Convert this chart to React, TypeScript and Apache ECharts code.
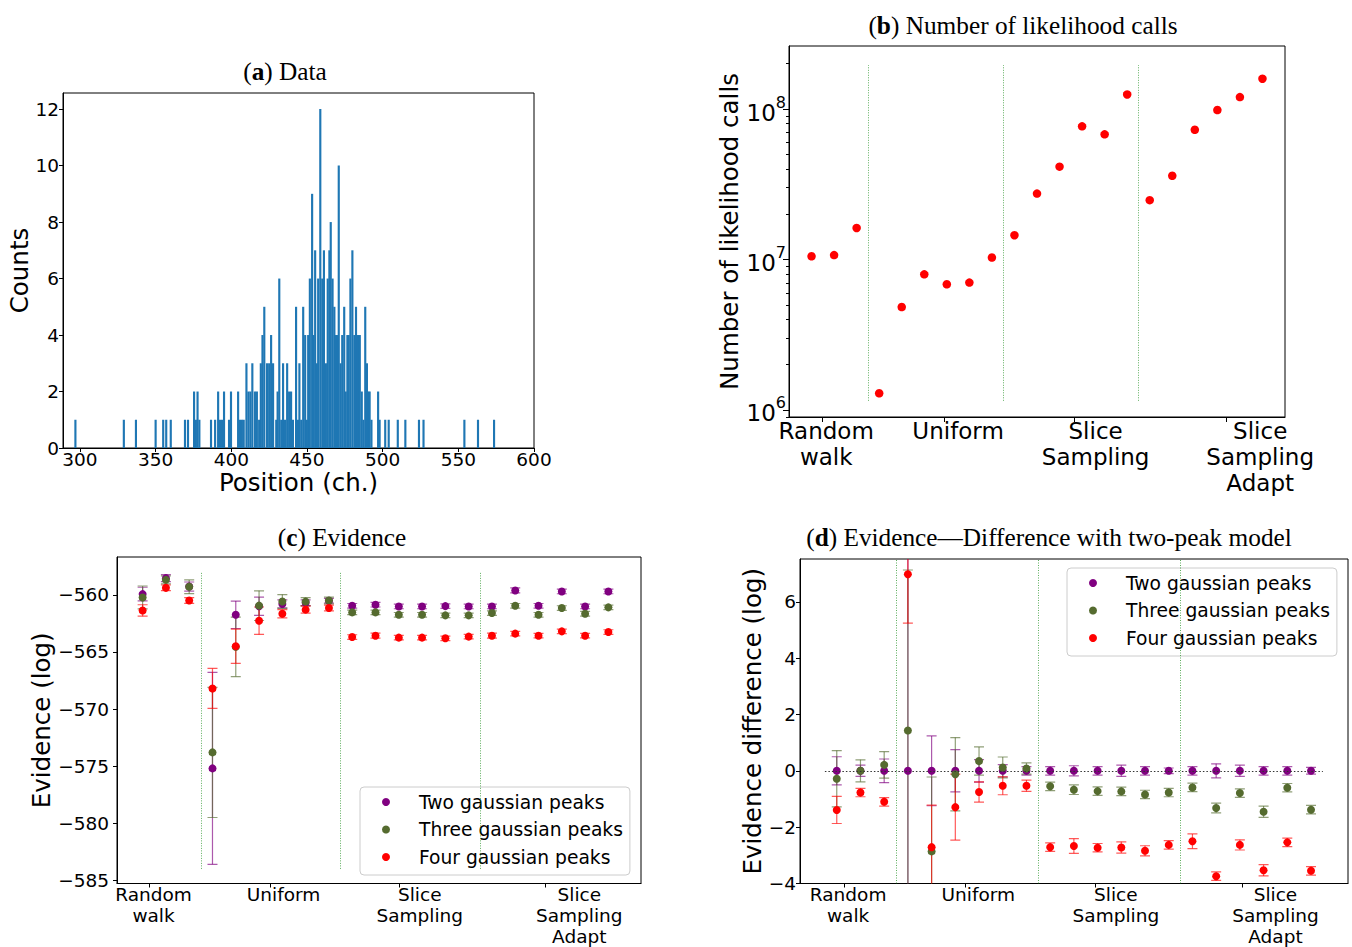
import React, { useEffect, useRef } from "react";
import * as echarts from "echarts";

// ---------- (a) Histogram data ----------
const HIST_CHANNELS = [
  297, 329, 337, 350, 355, 357, 360, 369.4, 371.4, 375.4,
  376.6, 377.7, 378.9, 386.6, 389.3, 391.3, 392.6, 393.9, 395.2, 398.5,
  399.8, 404.5, 405.8, 407, 408.2, 410, 411.3, 412.6, 413.9, 415.6,
  416.9, 418.4, 419.5, 420.6, 421.8, 423.6, 425, 426.3, 427.6, 429.7,
  430.6, 431.7, 433, 434.2, 435.5, 436.9, 438.2, 439.5, 440.7, 442.8,
  444.1, 445, 446.2, 447.5, 448.8, 449.9, 450.8, 451.9, 453.4, 454.3,
  455.4, 456.5, 457.4, 458.8, 460.1, 461.2, 462.5, 463.7, 464.8, 465.7,
  466.9, 468.1, 469.2, 470.1, 471, 472.2, 473.3, 474.6, 475.6, 476.7,
  477.6, 478.7, 480, 481.3, 482.4, 483.7, 484.9, 486.2, 487.3, 488.5,
  489.6, 490.5, 491.4, 492.6, 497, 498, 501.7, 504, 510, 515,
  524, 527, 554, 563, 573.6,
];
const HIST_COUNTS = [
  1, 1, 1, 1, 1, 1, 1, 1, 1, 2,
  1, 2, 1, 1, 1, 2, 1, 1, 2, 1,
  2, 2, 1, 1, 1, 3, 2, 2, 3, 2,
  2, 1, 3, 4, 5, 3, 3, 4, 3, 1,
  2, 6, 1, 3, 1, 3, 2, 2, 1, 5,
  1, 3, 1, 5, 4, 1, 4, 6, 9, 4,
  7, 3, 6, 12, 6, 7, 3, 6, 7, 8,
  6, 5, 4, 4, 10, 3, 4, 5, 2, 4,
  4, 6, 7, 4, 5, 4, 4, 2, 1, 5,
  3, 2, 2, 1, 2, 1, 1, 1, 1, 1,
  1, 1, 1, 1, 1,
];
const BIN_WIDTH = 1.42;
const HIST_X_TICKS = [300, 350, 400, 450, 500, 550, 600];
const HIST_Y_TICKS = [0, 2, 4, 6, 8, 10, 12];

// ---------- Methods ----------
const METHOD_LABELS = ["Random\nwalk", "Uniform", "Slice\nSampling", "Slice\nSampling\nAdapt"];
const SEPARATORS = [2.5, 8.5, 14.5];

// ---------- (b) Number of likelihood calls ----------
const CALL_COUNTS = [
  1.05e7, 1.07e7, 1.62e7,
  1.29e6, 4.83e6, 7.97e6, 6.84e6, 7.02e6, 1.03e7,
  1.45e7, 2.74e7, 4.14e7, 7.67e7, 6.79e7, 1.25e8,
  2.48e7, 3.6e7, 7.28e7, 9.85e7, 1.2e8, 1.59e8,
];
const CALLS_MAJOR_TICKS = [1e6, 1e7, 1e8];
const CALLS_MINOR_TICKS = [
  9e5, 2e6, 3e6, 4e6, 5e6, 6e6, 7e6, 8e6, 9e6,
  2e7, 3e7, 4e7, 5e7, 6e7, 7e7, 8e7, 9e7, 2e8,
];
const CALLS_SEP_RANGE = [1.15e6, 1.96e8];

// ---------- (c) Evidence ----------
const EV_TWO = [-559.94, -558.54, -559.28, -575.2, -561.75, -561.0, -560.8, -560.7, -560.52,
  -560.96, -560.87, -561.02, -561.02, -560.99, -561.02,
  -561.02, -559.62, -560.96, -559.71, -561.02, -559.71];
const EV_TWO_ERR = [0.6, 0.3, 0.4, 8.4, 1.2, 0.8, 0.35, 0.25, 0.2,
  0.2, 0.2, 0.2, 0.2, 0.2, 0.2, 0.2, 0.22, 0.2, 0.2, 0.2, 0.2];
const EV_THREE = [-560.23, -558.69, -559.3, -573.8, -564.56, -560.95, -560.58, -560.6, -560.5,
  -561.54, -561.54, -561.75, -561.75, -561.8, -561.8,
  -561.6, -560.96, -561.75, -561.16, -561.66, -561.1];
const EV_THREE_ERR = [1.0, 0.35, 0.6, 5.7, 2.6, 1.3, 0.6, 0.35, 0.3,
  0.2, 0.2, 0.2, 0.2, 0.2, 0.2, 0.2, 0.2, 0.2, 0.2, 0.2, 0.2];
const EV_FOUR = [-561.37, -559.39, -560.5, -568.2, -564.5, -562.27, -561.66, -561.3, -561.16,
  -563.7, -563.58, -563.75, -563.75, -563.81, -563.66,
  -563.58, -563.4, -563.58, -563.2, -563.58, -563.26];
const EV_FOUR_ERR = [0.5, 0.25, 0.25, 1.75, 1.5, 1.2, 0.36, 0.3, 0.25,
  0.2, 0.22, 0.2, 0.2, 0.2, 0.2, 0.22, 0.2, 0.2, 0.2, 0.2, 0.2];
const EV_TICKS = [-585, -580, -575, -570, -565, -560];
const EV_SEP_RANGE = [-584, -558];

// ---------- (d) Difference with two-peak model ----------
const DIFF_TWO = [0, 0, 0, 0, 0, 0, 0, 0, 0, 0, 0, 0, 0, 0, 0, 0, 0, 0, 0, 0, 0];
const DIFF_TWO_ERR = [0.5, 0.2, 0.42, 8.5, 1.24, 0.75, 0.4, 0.22, 0.15,
  0.15, 0.18, 0.15, 0.2, 0.15, 0.1, 0.15, 0.25, 0.2, 0.15, 0.15, 0.12];
const DIFF_THREE = [-0.28, 0, 0.21, 1.43, -2.86, -0.12, 0.35, 0.12, 0.08,
  -0.55, -0.67, -0.72, -0.73, -0.84, -0.77,
  -0.59, -1.32, -0.79, -1.45, -0.6, -1.38];
const DIFF_THREE_ERR = [1.0, 0.39, 0.47, 5.7, 2.64, 1.3, 0.5, 0.37, 0.2,
  0.15, 0.17, 0.15, 0.15, 0.15, 0.15, 0.15, 0.17, 0.15, 0.2, 0.15, 0.15];
const DIFF_FOUR = [-1.39, -0.77, -1.1, 6.98, -2.71, -1.29, -0.75, -0.53, -0.53,
  -2.71, -2.67, -2.73, -2.72, -2.84, -2.63,
  -2.5, -3.74, -2.63, -3.53, -2.54, -3.55];
const DIFF_FOUR_ERR = [0.48, 0.15, 0.15, 1.74, 1.49, 1.17, 0.36, 0.32, 0.2,
  0.15, 0.26, 0.15, 0.2, 0.18, 0.15, 0.26, 0.15, 0.18, 0.2, 0.15, 0.15];
const DIFF_TICKS = [-4, -2, 0, 2, 4, 6];
const DIFF_RANGE = [-4, 7.52];

const MODEL_NAMES = ["Two gaussian peaks", "Three gaussian peaks", "Four gaussian peaks"];
const MODEL_COLORS = ["#800080", "#556b2f", "#ff0000"];

const SANS = "DejaVu Sans";
const SERIF = "Liberation Serif";

const minus = (v: number) => (v < 0 ? "\u2212" + Math.abs(v) : String(v));

function methodFormatter(pos: number[]) {
  return (v: number) => {
    const i = pos.findIndex((p) => Math.abs(p - v) < 1e-6);
    return i >= 0 ? METHOD_LABELS[i] : "";
  };
}

function errSeries(name: string, color: string, xi: number, yi: number, vals: number[], errs: number[]) {
  return {
    type: "custom",
    name: name + " error",
    xAxisIndex: xi,
    yAxisIndex: yi,
    clip: true,
    silent: true,
    data: vals.map((v, i) => [i, v, errs[i]]),
    encode: { x: 0, y: 1 },
    renderItem: (params: any, api: any) => {
      const x = api.value(0);
      const y = api.value(1);
      const e = api.value(2);
      const p1 = api.coord([x, y + e]);
      const p2 = api.coord([x, y - e]);
      const hw = 5;
      const s = { stroke: color, lineWidth: 1.2, opacity: 0.65 };
      return {
        type: "group",
        children: [
          { type: "line", shape: { x1: p1[0], y1: p1[1], x2: p2[0], y2: p2[1] }, style: s },
          { type: "line", shape: { x1: p1[0] - hw, y1: p1[1], x2: p1[0] + hw, y2: p1[1] }, style: s },
          { type: "line", shape: { x1: p2[0] - hw, y1: p2[1], x2: p2[0] + hw, y2: p2[1] }, style: s },
        ],
      };
    },
  };
}

function sepMarkLine(lo: number, hi: number) {
  return {
    silent: true,
    symbol: "none",
    label: { show: false },
    lineStyle: { color: "#008000", width: 0.8, type: [1, 1.5], opacity: 0.8 },
    data: SEPARATORS.map((s) => [{ coord: [s, lo] }, { coord: [s, hi] }]),
  };
}

function buildOption() {
  const axisLineStyle = { show: true, onZero: false, lineStyle: { color: "#000", width: 1 } };
  const labelBase = { color: "#000", fontFamily: SANS, fontSize: 18.5 };
  const nameStyle = { color: "#000", fontFamily: SANS, fontSize: 24.5 };
  const gridBase = { show: true, borderColor: "#000", borderWidth: 1, backgroundColor: "transparent" };

  const LABEL_POS_B = [0.65, 6.5, 12.6, 19.9];
  const TICK_POS_B = [0.47, 5.9, 11.65, 18.4];
  const LABEL_POS_C = [0.47, 6.05, 11.9, 18.75];
  const TICK_POS_C = [0.3, 5.5, 11.0, 17.3];
  const LABEL_POS_D = [0.48, 5.97, 11.77, 18.5];
  const TICK_POS_D = [0.3, 5.4, 10.9, 17.1];

  const series: any[] = [];

  // (a) histogram
  series.push({
    type: "custom",
    name: "hist",
    xAxisIndex: 0,
    yAxisIndex: 0,
    clip: true,
    silent: true,
    data: HIST_CHANNELS.map((c, i) => [c, HIST_COUNTS[i]]),
    encode: { x: 0, y: 1 },
    renderItem: (params: any, api: any) => {
      const c = api.value(0);
      const n = api.value(1);
      const p0 = api.coord([c - BIN_WIDTH / 2, 0]);
      const p1 = api.coord([c + BIN_WIDTH / 2, n]);
      return {
        type: "rect",
        shape: { x: p0[0], y: p1[1], width: p1[0] - p0[0], height: p0[1] - p1[1] },
        style: { fill: "#1f77b4" },
      };
    },
  });

  // (b) likelihood calls
  series.push({
    type: "scatter",
    name: "calls",
    xAxisIndex: 1,
    yAxisIndex: 1,
    symbolSize: 8.5,
    itemStyle: { color: "#ff0000", opacity: 1 },
    data: CALL_COUNTS.map((v, i) => [i, Math.log10(v)]),
    markLine: sepMarkLine(Math.log10(CALLS_SEP_RANGE[0]), Math.log10(CALLS_SEP_RANGE[1])),
  });

  // (c) evidence
  const evVals = [EV_TWO, EV_THREE, EV_FOUR];
  const evErrs = [EV_TWO_ERR, EV_THREE_ERR, EV_FOUR_ERR];
  for (let m = 0; m < 3; m++) {
    series.push(errSeries(MODEL_NAMES[m] + " (c)", MODEL_COLORS[m], 2, 3, evVals[m], evErrs[m]));
    const s: any = {
      type: "scatter",
      name: MODEL_NAMES[m],
      xAxisIndex: 2,
      yAxisIndex: 3,
      symbolSize: 8,
      itemStyle: { color: MODEL_COLORS[m], opacity: 1 },
      data: evVals[m].map((v, i) => [i, v]),
    };
    if (m === 0) s.markLine = sepMarkLine(EV_SEP_RANGE[0], EV_SEP_RANGE[1]);
    series.push(s);
  }

  // (d) differences
  const dVals = [DIFF_TWO, DIFF_THREE, DIFF_FOUR];
  const dErrs = [DIFF_TWO_ERR, DIFF_THREE_ERR, DIFF_FOUR_ERR];
  series.push({
    type: "line",
    name: "zero",
    xAxisIndex: 3,
    yAxisIndex: 4,
    data: [],
    markLine: {
      silent: true,
      symbol: "none",
      label: { show: false },
      lineStyle: { color: "#333", width: 1, type: [1.5, 2] },
      data: [[{ coord: [-0.5, 0] }, { coord: [20.5, 0] }]],
    },
  });
  for (let m = 0; m < 3; m++) {
    series.push(errSeries(MODEL_NAMES[m] + " (d)", MODEL_COLORS[m], 3, 4, dVals[m], dErrs[m]));
    const s: any = {
      type: "scatter",
      name: MODEL_NAMES[m],
      xAxisIndex: 3,
      yAxisIndex: 4,
      symbolSize: 8,
      itemStyle: { color: MODEL_COLORS[m], opacity: 1 },
      data: dVals[m].map((v, i) => [i, v]),
    };
    if (m === 0) s.markLine = sepMarkLine(DIFF_RANGE[0], DIFF_RANGE[1]);
    series.push(s);
  }

  const legendBase = {
    data: MODEL_NAMES,
    orient: "vertical",
    icon: "circle",
    itemWidth: 56,
    itemHeight: 8,
    itemGap: 7.5,
    padding: [5, 7, 8, 22],
    borderColor: "#cccccc",
    borderWidth: 1,
    borderRadius: 4,
    backgroundColor: "rgba(255,255,255,0.8)",
    selectedMode: false,
    textStyle: { color: "#000", fontFamily: SANS, fontSize: 18.7, lineHeight: 20 },
  };

  const title = (x: number, y: number, letter: string, rest: string) => ({
    type: "text",
    x,
    y,
    silent: true,
    style: {
      text: "({b|" + letter + "}) " + rest,
      fill: "#000",
      fontFamily: SERIF,
      fontSize: 25.3,
      align: "center",
      verticalAlign: "middle",
      textAlign: "center",
      textVerticalAlign: "middle",
      rich: { b: { fontFamily: SERIF, fontSize: 25.3, fontWeight: "bold", fill: "#000" } },
    },
  });

  return {
    animation: false,
    backgroundColor: "#fff",
    grid: [
      { ...gridBase, left: 63, top: 93, width: 471, height: 355 },
      { ...gridBase, left: 789, top: 46, width: 496, height: 371 },
      { ...gridBase, left: 117, top: 557, width: 524, height: 328 },
      { ...gridBase, left: 800, top: 559, width: 548, height: 326 },
    ],
    xAxis: [
      {
        gridIndex: 0, type: "value", min: 288.8, max: 600,
        axisLine: axisLineStyle, splitLine: { show: false },
        axisTick: { show: true, customValues: HIST_X_TICKS, length: 4, lineStyle: { color: "#000" } },
        axisLabel: { ...labelBase, customValues: HIST_X_TICKS, margin: 2 },
        name: "Position (ch.)", nameLocation: "middle", nameGap: 21, nameTextStyle: nameStyle,
      },
      {
        gridIndex: 1, type: "value", min: -1, max: 21,
        axisLine: axisLineStyle, splitLine: { show: false },
        axisTick: { show: true, customValues: TICK_POS_B, length: 5, lineStyle: { color: "#000" } },
        axisLabel: { ...labelBase, fontSize: 23, lineHeight: 26, customValues: LABEL_POS_B, margin: 1, formatter: methodFormatter(LABEL_POS_B) },
      },
      {
        gridIndex: 2, type: "value", min: -1.1, max: 21.4,
        axisLine: axisLineStyle, splitLine: { show: false },
        axisTick: { show: true, customValues: TICK_POS_C, length: 4, lineStyle: { color: "#000" } },
        axisLabel: { ...labelBase, lineHeight: 21, customValues: LABEL_POS_C, margin: 0.5, formatter: methodFormatter(LABEL_POS_C) },
      },
      {
        gridIndex: 3, type: "value", min: -1.55, max: 21.56,
        axisLine: axisLineStyle, splitLine: { show: false },
        axisTick: { show: true, customValues: TICK_POS_D, length: 4, lineStyle: { color: "#000" } },
        axisLabel: { ...labelBase, lineHeight: 21, customValues: LABEL_POS_D, margin: 0.5, formatter: methodFormatter(LABEL_POS_D) },
      },
    ],
    yAxis: [
      {
        gridIndex: 0, type: "value", min: 0, max: 12.57,
        axisLine: axisLineStyle, splitLine: { show: false },
        axisTick: { show: true, customValues: HIST_Y_TICKS, length: 4, lineStyle: { color: "#000" } },
        axisLabel: { ...labelBase, customValues: HIST_Y_TICKS, margin: 4 },
        name: "Counts", nameLocation: "middle", nameGap: 31, nameTextStyle: nameStyle,
      },
      {
        gridIndex: 1, type: "value", min: 5.953, max: 8.419,
        axisLine: axisLineStyle, splitLine: { show: false },
        axisTick: { show: true, customValues: CALLS_MAJOR_TICKS.map((v) => Math.log10(v)), length: 6, lineStyle: { color: "#000" } },
        axisLabel: {
          ...labelBase,
          customValues: CALLS_MAJOR_TICKS.map((v) => Math.log10(v)),
          margin: 3,
          formatter: (v: number) => "{b|10}{s|" + Math.round(v) + "}",
          rich: {
            b: { fontFamily: SANS, fontSize: 23, color: "#000", verticalAlign: "bottom" },
            s: { fontFamily: SANS, fontSize: 16, color: "#000", verticalAlign: "top", padding: [0, 0, 14, 0] },
          },
        },
        name: "Number of likelihood calls", nameLocation: "middle", nameGap: 47, nameTextStyle: nameStyle,
      },
      {
        gridIndex: 1, type: "value", min: 5.953, max: 8.419, position: "left",
        axisLine: { show: false, onZero: false }, splitLine: { show: false },
        axisTick: { show: true, customValues: CALLS_MINOR_TICKS.map((v) => Math.log10(v)), length: 3, lineStyle: { color: "#000" } },
        axisLabel: { show: false },
      },
      {
        gridIndex: 2, type: "value", min: -585.28, max: -556.69,
        axisLine: axisLineStyle, splitLine: { show: false },
        axisTick: { show: true, customValues: EV_TICKS, length: 4, lineStyle: { color: "#000" } },
        axisLabel: { ...labelBase, customValues: EV_TICKS, margin: 8, formatter: minus },
        name: "Evidence (log)", nameLocation: "middle", nameGap: 54, nameTextStyle: nameStyle,
      },
      {
        gridIndex: 3, type: "value", min: DIFF_RANGE[0], max: DIFF_RANGE[1],
        axisLine: axisLineStyle, splitLine: { show: false },
        axisTick: { show: true, customValues: DIFF_TICKS, length: 4, lineStyle: { color: "#000" } },
        axisLabel: { ...labelBase, customValues: DIFF_TICKS, margin: 4, formatter: minus },
        name: "Evidence difference (log)", nameLocation: "middle", nameGap: 33, nameTextStyle: nameStyle,
      },
    ],
    legend: [
      { ...legendBase, left: 360, top: 787 },
      { ...legendBase, left: 1067, top: 568 },
    ],
    graphic: [
      title(285, 71, "a", "Data"),
      title(1023, 25, "b", "Number of likelihood calls"),
      title(342, 537, "c", "Evidence"),
      title(1049, 537, "d", "Evidence\u2014Difference with two-peak model"),
    ],
    series,
  };
}

export default function App() {
  const ref = useRef<HTMLDivElement>(null);
  useEffect(() => {
    document.body.style.margin = "0";
    const chart = echarts.init(ref.current as HTMLDivElement, null, { renderer: "svg" });
    chart.setOption(buildOption() as any);
    return () => chart.dispose();
  }, []);
  return <div ref={ref} style={{ width: 1352, height: 947 }} />;
}
